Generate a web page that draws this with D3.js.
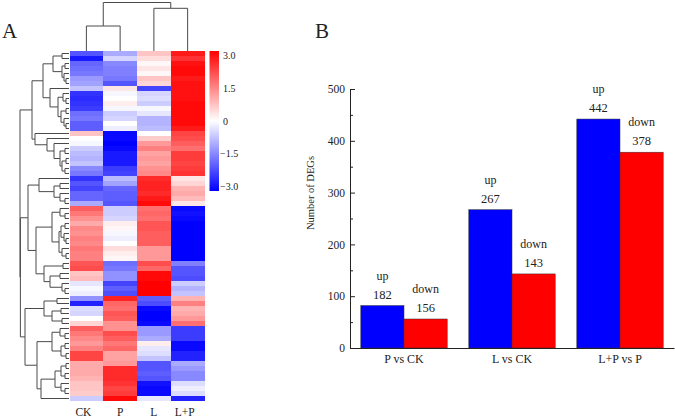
<!DOCTYPE html>
<html>
<head>
<meta charset="utf-8">
<script src="https://cdn.jsdelivr.net/npm/d3@7"></script>
<style>
html, body { margin: 0; padding: 0; background: #fff; }
svg { display: block; }
text { font-family: "Liberation Serif", serif; fill: #222; }
.soft { filter: blur(0.4px); }
</style>
</head>
<body>
<svg width="675" height="419"></svg>
<script>
// panel A: heat map values, one row per line: CK, P, L, L+P
var samples = ["CK", "P", "L", "L+P"];
var heat_rows = [
  [-2.0,-1.0, 0.7, 2.7], [-2.7,-0.5, 0.4, 2.4], [-1.8,-1.4, 0.1, 2.8], [-1.7,-1.5, 0.3, 2.9], [-1.6,-1.5, 0.1, 2.9],
  [-1.2,-1.6, 0.7, 2.7], [-1.1,-2.0, 0.5, 2.8], [-0.7, 0.3,-2.2, 2.8], [-2.4,-0.1,-0.5, 2.8], [-2.5, 0.0,-0.4, 2.8],
  [-2.4, 0.2,-0.6, 2.9], [-2.3,-0.1,-0.1, 2.9], [-1.7,-0.6,-0.3, 2.9], [-1.6,-0.5,-0.9, 2.9], [-1.9, 0.0,-0.9, 2.9],
  [-1.9,-0.2,-0.8, 2.7], [ 0.7,-2.9, 0.0, 2.2], [ 0.0,-2.9, 0.6, 2.1], [-0.1,-3.0, 1.2, 1.9], [-0.6,-2.9, 1.5, 1.7],
  [-0.8,-2.7, 1.1, 2.3], [-0.9,-2.7, 1.2, 2.3], [-0.7,-2.7, 1.1, 2.2], [-1.4,-2.3, 1.3, 2.3], [-1.6,-2.2, 1.4, 2.4],
  [-2.4,-0.8, 2.5, 0.3], [-2.0,-1.1, 2.6, 0.5], [-2.2,-1.8, 2.6, 0.9], [-1.8,-1.9, 2.5, 1.0], [-1.8,-1.9, 2.7, 0.8],
  [-1.0,-2.0, 2.9, 0.3], [ 1.9,-0.6, 1.7,-2.9], [ 1.6,-0.6, 1.8,-2.8], [ 1.3,-0.5, 1.7,-2.9], [ 1.0, 0.2, 2.0,-3.0],
  [ 1.4, 0.1, 2.0,-3.0], [ 1.3,-0.1, 1.9,-3.0], [ 1.5,-0.2, 1.9,-3.0], [ 1.4, 0.0, 1.9,-3.0], [ 1.6, 0.4, 1.2,-3.0],
  [ 1.5, 0.2, 1.2,-3.0], [ 1.5, 0.1, 1.2,-3.0], [ 2.0,-1.7, 2.1,-1.5], [ 2.1,-1.6, 1.8,-2.0], [ 0.7,-1.3, 2.9,-2.0],
  [ 0.8,-1.3, 2.9,-2.1], [-0.3,-2.2, 3.0,-0.6], [-0.1,-1.9, 3.0,-0.9], [-0.2,-2.1, 3.0,-0.7], [-1.3, 2.6,-1.9, 0.9],
  [-2.6, 1.8,-2.1, 1.5], [-0.4, 1.7,-2.9, 0.9], [-0.5, 2.0,-3.0, 1.0], [ 0.0, 1.9,-3.0, 1.2], [ 0.5, 1.3,-2.9, 1.7],
  [ 1.9, 1.3,-1.2,-2.3], [ 1.6, 2.1,-1.2,-2.3], [ 1.4, 1.9,-1.0,-2.3], [ 1.2, 1.6, 0.2,-2.9], [ 1.5, 1.8,-0.3,-2.9],
  [ 2.2, 1.1,-0.4,-2.6], [ 2.2, 1.1,-0.7,-2.6], [ 1.0, 1.2,-2.0,-1.0], [ 1.0, 2.5,-2.0,-1.2], [ 1.0, 2.5,-1.9,-1.4],
  [ 0.9, 2.5,-2.0,-1.4], [ 0.7, 2.4,-2.8,-0.4], [ 0.7, 2.2,-2.9,-0.2], [ 0.6, 2.3,-2.9,-0.4], [-0.6, 2.9,-0.3,-2.6]
];
var legend_ticks = [3, 1.5, 0, -1.5, -3];

// dendrograms: [merge distance, left, right], a bare number is a leaf index
var sample_tree = [48.5, [25, 0, 1], [42.7, 2, 3]];
var row_tree =
  [49,
    [37,
      [26,
        [16, [7, 0, 1], [7, [4, 2, 3], [5, 4, [3, 5, 6]]]],
        [19, 7, [11, [6, 8, [3, 9, 10]], [8, [3, 11, 12], [5, 13, [3, 14, 15]]]]]],
      [34, 16, [22, 17, [15, 18, [9, [4, 19, 20], [7, [3, 21, 22], [4, 23, 24]]]]]]],
    [48.6,
      [41,
        [30, 25, [15, [9, 26, 27], [9, 28, [4, 29, 30]]]],
        [33,
          [17, [9, 31, [4, 32, 33]],
            [10, [8, [4, 34, 35], [5, 36, [3, 37, 38]]], [7, 39, [3, 40, 41]]]],
          [25, [6, 42, 43], [19, [9, 44, 45], [7, 46, [4, 47, 48]]]]]],
      [44,
        [25, [12, 49, 50], [17, [8, 51, 52], [7, 53, 54]]],
        [32,
          [17, [9, 55, [4, 56, 57]], [8, [4, 58, 59], [3, 60, 61]]],
          [28, [14, [8, [3, 62, 63], [4, 64, 65]], [8, 66, [4, 67, 68]]], 69]]]]];

// panel B: bar lengths and the numbers printed above them differ for the first group
var comparisons = ["P vs CK", "L vs CK", "L+P vs P"];
var up_values = [82, 267, 442];
var down_values = [56, 143, 378];
var up_labels = ["182", "267", "442"];
var down_labels = ["156", "143", "378"];
var y_ticks = [0, 100, 200, 300, 400, 500];
var y_minor_ticks = [50, 150, 250, 350, 450];

const svg = d3.select("svg");
var heat_color = d3.scaleLinear().domain([-3, 0, 3]).range(["#0000ff", "#ffffff", "#ff0000"]);

svg.append("text").attr("x", 2).attr("y", 38).style("font-size", "21px").text("A");
svg.append("text").attr("x", 315).attr("y", 38).style("font-size", "21px").text("B");

// ---- heat map
var col_scale = d3.scaleBand().domain(d3.range(samples.length)).range([69.5, 204.5]);
var row_scale = d3.scaleBand().domain(d3.range(heat_rows.length)).range([51, 401]);

svg.append("g")
    .attr("class", "soft")
  .selectAll("g")
  .data(heat_rows)
  .join("g")
    .attr("transform", (d, i) => `translate(0,${row_scale(i)})`)
  .selectAll("rect")
  .data(d => d)
  .join("rect")
    .attr("x", (d, i) => col_scale(i))
    .attr("width", col_scale.bandwidth())
    .attr("height", row_scale.bandwidth())
    .attr("shape-rendering", "crispEdges")
    .attr("fill", d => heat_color(d));

svg.append("g")
  .selectAll("text")
  .data(samples)
  .join("text")
    .attr("x", (d, i) => col_scale(i) + col_scale.bandwidth() / 2 - [3, 0, 0, 3][i])
    .attr("y", 416)
    .attr("text-anchor", "middle")
    .style("font-size", "11.5px")
    .text(d => d);

// draws a dendrogram, dist_scale maps merge distance and leaf_pos gives the leaf position
function draw_tree(nest, dist_scale, leaf_pos, vertical) {
  var root = d3.hierarchy(nest, d => Array.isArray(d) ? d.slice(1) : null);
  root.eachAfter(d => {
    d.pos = d.children ? d3.mean(d.children, c => c.pos) : leaf_pos(d.data);
    d.dist = dist_scale(d.children ? d.data[0] : 0);
  });
  var pt = (dist, pos) => vertical ? `${pos},${dist}` : `${dist},${pos}`;
  svg.append("g")
    .attr("class", "soft")
    .attr("fill", "none")
    .attr("stroke", "#4a4a4a")
    .attr("stroke-width", 1)
    .selectAll("path")
    .data(root.links())
    .join("path")
      .attr("d", d => `M${pt(d.source.dist, d.source.pos)}L${pt(d.source.dist, d.target.pos)}L${pt(d.target.dist, d.target.pos)}`);
}

draw_tree(row_tree,
  d3.scaleLinear().domain([0, 49]).range([69, 20]),
  i => row_scale(i) + row_scale.bandwidth() / 2, false);
draw_tree(sample_tree,
  d3.scaleLinear().domain([0, 49]).range([51, 2]),
  i => col_scale(i) + col_scale.bandwidth() / 2, true);

// ---- colour key
var gradient = svg.append("defs").append("linearGradient")
    .attr("id", "key_gradient")
    .attr("x1", 0).attr("x2", 0).attr("y1", 0).attr("y2", 1);
gradient.selectAll("stop")
  .data([3, 0, -3])
  .join("stop")
    .attr("offset", (d, i) => i / 2)
    .attr("stop-color", d => heat_color(d));

svg.append("rect")
    .attr("x", 209.5).attr("y", 51)
    .attr("width", 9.5).attr("height", 140)
    .attr("fill", "url(#key_gradient)");

var key_scale = d3.scaleLinear().domain([-3, 3]).range([187, 56]);
svg.append("g")
  .selectAll("text")
  .data(legend_ticks)
  .join("text")
    .attr("x", d => d < 0 ? 220 : 223)
    .attr("y", d => key_scale(d))
    .attr("dy", "0.32em")
    .style("font-size", "10px")
    .text(d => d == 0 ? "0" : d3.format(".1f")(d));

// ---- bar chart
var x0 = d3.scaleBand().domain(comparisons).range([350, 674]).paddingInner(0.2).paddingOuter(0.1);
var x1 = d3.scaleBand().domain(["up", "down"]).range([0, x0.bandwidth()]);
var y = d3.scaleLinear().domain([0, 500]).range([348, 89]);

var bars = [];
comparisons.forEach((c, i) => {
  bars.push({group: c, kind: "up", value: up_values[i], label: up_labels[i]});
  bars.push({group: c, kind: "down", value: down_values[i], label: down_labels[i]});
});

svg.append("g")
  .selectAll("rect")
  .data(bars)
  .join("rect")
    .attr("x", d => x0(d.group) + x1(d.kind))
    .attr("y", d => y(d.value))
    .attr("width", x1.bandwidth())
    .attr("height", d => y(0) - y(d.value))
    .attr("fill", d => d.kind == "up" ? "#0000ff" : "#ff0000")
    .attr("stroke", "#333")
    .attr("stroke-width", 0.5);

var bar_text = svg.append("g").attr("text-anchor", "middle");
bar_text.selectAll(".num")
  .data(bars)
  .join("text")
    .attr("class", "num")
    .attr("x", d => x0(d.group) + x1(d.kind) + x1.bandwidth() / 2)
    .attr("y", d => y(d.value) - 7)
    .style("font-size", "12.5px")
    .text(d => d.label);
bar_text.selectAll(".word")
  .data(bars)
  .join("text")
    .attr("class", "word")
    .attr("x", d => x0(d.group) + x1(d.kind) + x1.bandwidth() / 2)
    .attr("y", d => y(d.value) - 26)
    .style("font-size", "12px")
    .text(d => d.kind);

var axis_x = svg.append("g")
    .attr("transform", `translate(0,${y(0)})`)
    .call(d3.axisBottom(x0).tickSize(0).tickPadding(6));
var axis_y = svg.append("g")
    .attr("transform", "translate(350,0)")
    .call(d3.axisLeft(y).tickValues(y_ticks).tickSizeInner(-5).tickSizeOuter(0).tickPadding(5));
svg.append("g")
    .attr("transform", "translate(350,0)")
    .call(d3.axisLeft(y).tickValues(y_minor_ticks).tickSizeInner(-3).tickSizeOuter(0).tickFormat(""))
    .call(g => g.select(".domain").remove());

svg.selectAll(".tick text")
    .style("font-size", "11.5px")
    .style("font-family", "\"Liberation Serif\", serif")
    .attr("fill", "#222");
axis_x.selectAll(".tick text").style("font-size", "12px");
svg.selectAll(".domain, .tick line").attr("stroke", "#222");

svg.append("text")
    .attr("transform", "translate(314,193) rotate(-90)")
    .attr("text-anchor", "middle")
    .style("font-size", "10.5px")
    .text("Number of DEGs");
</script>
</body>
</html>
